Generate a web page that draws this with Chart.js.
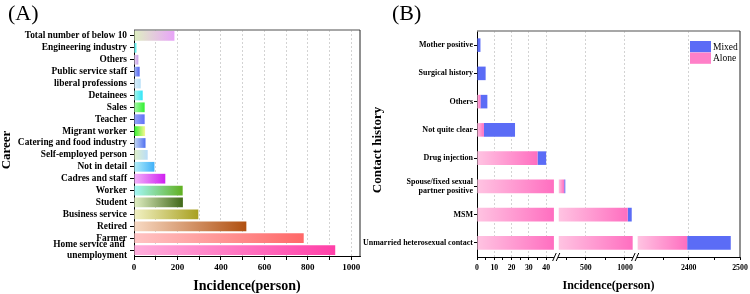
<!DOCTYPE html>
<html>
<head>
<meta charset="utf-8">
<script src="https://cdn.jsdelivr.net/npm/chart.js@4.4.1/dist/chart.umd.min.js"></script>
<style>
  body { margin: 0; background: #fff; }
  #wrap { position: relative; width: 750px; height: 294px; overflow: hidden; }
  #careerBox { position: absolute; left: 0; top: 0; width: 370px; height: 294px; }
  #contactBox { position: absolute; left: 355px; top: 0; width: 395px; height: 294px; }
  .tag { position: absolute; top: 2px; font-family: "Liberation Serif", serif; font-size: 22px; line-height: 22px; }
</style>
</head>
<body>
<div id="wrap">
  <div id="careerBox"><canvas id="careerChart"></canvas></div>
  <div id="contactBox"><canvas id="contactChart"></canvas></div>
  <div class="tag" style="left:8px;">(A)</div>
  <div class="tag" style="left:392px;">(B)</div>
</div>
<script>
// ---- (A) career ----
const careerLabels = ['Total number of below 10', 'Engineering industry', 'Others', 'Public service staff',
  'liberal professions', 'Detainees', 'Sales', 'Teacher', 'Migrant worker', 'Catering and food industry',
  'Self-employed person', 'Not in detail', 'Cadres and staff', 'Worker', 'Student', 'Business service',
  'Retired', 'Farmer', ['Home service and ', 'unemployment']];
const careerCases = [186, 11, 20, 26, 31, 40, 49, 49, 51, 53, 63, 94, 144, 224, 225, 296, 517, 781, 926];
const careerTicks = [0, 100, 200, 300, 400, 500, 600, 700, 800, 900, 1000];
const careerTickLabels = [0, 200, 400, 600, 800, 1000];

// ---- (B) contact history ----
const contactLabels = ['Mother positive', 'Surgical history', 'Others', 'Not quite clear', 'Drug injection',
  ['Spouse/fixed sexual', 'partner positive'], 'MSM', 'Unmarried heterosexual contact'];
const contactAlone = [0, 0, 2, 4, 35, 223, 1035, 2397];
const contactMixed = [2, 5, 4, 18, 5, 14, 51, 85];
// broken x axis: three pieces
const contactSegments = [[0, 44.5], [150, 1100], [2300, 2500]];
const contactTicks = [[0, 5, 10, 15, 20, 25, 30, 35, 40], [250, 500, 750, 1000], [2350, 2400, 2450, 2500]];
const contactTickLabels = [[0, 10, 20, 30, 40], [500, 1000], [2400, 2500]];

// colours (left light -> right deep) for career bars
const careerFrom = ['#dff0c2', '#a8f8f8', '#ecd8f4', '#a8bcf8', '#dcf0fa', '#a8f8ea', '#a8f8a8', '#98a8f8',
  '#30f030', '#c8dcf4', '#e2f2ca', '#b4f0fa', '#f2b4fa', '#a4f8f8', '#e2f0c4', '#f2f2c4', '#f8dac4', '#ffc4c4', '#ffaedc'];
const careerTo = ['#e8a4f8', '#40f0f0', '#c8a0e8', '#5060f0', '#b8e0f8', '#30e4f8', '#30f030', '#6070f8',
  '#f8f890', '#5070f0', '#b8dcf8', '#40b0f8', '#d020f0', '#60b020', '#406818', '#a8a020', '#b05010', '#ff6868', '#ff40a8'];
const aloneFrom = '#ffc4e2', aloneTo = '#ff6ec0', mixedBlue = '#5b6cf6';

const serif = '"Liberation Serif", "Times New Roman", serif';
Chart.defaults.color = '#000';
Chart.defaults.font.family = serif;

function hGradient(chart, x0, x1, from, to) {
  const g = chart.ctx.createLinearGradient(x0, 0, x1, 0);
  g.addColorStop(0, from);
  g.addColorStop(1, to);
  return g;
}

// top + right frame lines
const framePlugin = {
  id: 'frame',
  afterDraw(chart) {
    const {ctx, chartArea: a} = chart;
    ctx.save();
    ctx.strokeStyle = '#8a8a8a';
    ctx.lineWidth = 1.5;
    ctx.beginPath(); ctx.moveTo(a.left, a.top); ctx.lineTo(a.right, a.top); ctx.stroke();
    ctx.strokeStyle = '#222';
    ctx.lineWidth = 1;
    ctx.beginPath(); ctx.moveTo(a.right, a.top); ctx.lineTo(a.right, a.bottom); ctx.stroke();
    ctx.restore();
  }
};

// axis titles drawn at fixed spots
const titlePlugin = {
  id: 'axisTitles',
  afterDraw(chart, args, opts) {
    const ctx = chart.ctx;
    (opts.items || []).forEach(t => {
      ctx.save();
      ctx.translate(t.x, t.y);
      if (t.rotate) ctx.rotate(-Math.PI / 2);
      ctx.font = 'bold ' + t.size + 'px ' + serif;
      ctx.fillStyle = '#000';
      ctx.textAlign = 'center';
      ctx.textBaseline = 'middle';
      ctx.fillText(t.text, 0, 0);
      ctx.restore();
    });
  }
};

// "//" marks on the broken axis + legend
const breakPlugin = {
  id: 'breaks',
  afterDraw(chart) {
    const ctx = chart.ctx, y = chart.chartArea.bottom;
    ctx.save();
    ctx.strokeStyle = '#000';
    ctx.lineWidth = 1;
    ['g0', 'g1'].forEach(id => {
      const s = chart.scales[id];
      const cx = (s.left + s.right) / 2;
      [-1.8, 1.8].forEach(d => {
        ctx.beginPath();
        ctx.moveTo(cx + d - 1.8, y + 4);
        ctx.lineTo(cx + d + 1.8, y - 4);
        ctx.stroke();
      });
    });
    // legend
    const items = [['Mixed', mixedBlue], ['Alone', '#ff80c8']];
    ctx.font = '9.5px ' + serif;
    ctx.textBaseline = 'middle';
    items.forEach((it, i) => {
      const top = 41 + i * 11.5;
      ctx.fillStyle = it[1];
      ctx.fillRect(335, top, 21, 11.3);
      ctx.fillStyle = '#000';
      ctx.fillText(it[0], 358, top + 6);
    });
    ctx.restore();
  }
};

new Chart(document.getElementById('careerChart'), {
  type: 'bar',
  data: {
    labels: careerLabels,
    datasets: [{
      data: careerCases,
      backgroundColor(c) {
        if (c.type !== 'data' || !c.chart.chartArea) return careerTo[c.dataIndex] || '#999';
        const x = c.chart.scales.x;
        return hGradient(c.chart, x.getPixelForValue(0), x.getPixelForValue(c.raw), careerFrom[c.dataIndex], careerTo[c.dataIndex]);
      },
      borderWidth: 0,
      barPercentage: 0.82,
      categoryPercentage: 1
    }]
  },
  options: {
    indexAxis: 'y',
    responsive: true,
    maintainAspectRatio: false,
    animation: false,
    layout: { padding: { top: 30, right: 10, left: 0, bottom: 0 } },
    plugins: {
      legend: { display: false },
      tooltip: { enabled: false },
      axisTitles: { items: [
        { text: 'Incidence(person)', x: 247, y: 286, size: 14 },
        { text: 'Career', x: 6.5, y: 150, size: 13, rotate: true }
      ] }
    },
    scales: {
      x: {
        type: 'linear', min: 0, max: 1040, bounds: 'data',
        afterBuildTicks: s => { s.ticks = careerTicks.map(v => ({ value: v })); },
        afterFit: s => { s.height = 38; },
        ticks: {
          autoSkip: false, maxRotation: 0, padding: 2,
          font: { size: 9, weight: 'bold' },
          callback: v => careerTickLabels.includes(v) ? String(v) : ''
        },
        grid: {
          color: c => c.tick && c.tick.value === 0 ? 'rgba(0,0,0,0)' : '#c8c8c8',
          lineWidth: 0.8, tickColor: '#000', tickLength: 4, tickWidth: 1
        },
        border: { color: '#000', width: 1, dash: [2, 2] }
      },
      y: {
        type: 'category',
        afterFit: s => { s.width = 134; },
        ticks: { autoSkip: false, padding: 3, font: { size: 9.4, weight: 'bold' } },
        grid: { drawOnChartArea: false, offset: false, tickLength: 4, tickColor: '#000' },
        border: { color: '#000', width: 1 }
      }
    }
  },
  plugins: [framePlugin, titlePlugin]
});

// ---- (B) build pieces per axis segment ----
function piece(a, b, seg) {
  const lo = Math.max(a, seg[0]), hi = Math.min(b, seg[1]);
  return hi > lo ? [lo, hi] : null;
}

const segWeights = [77, 4.6, 74.4, 4.6, 102.7];
const contactDatasets = [];
const contactScales = {
  y: {
    type: 'category',
    afterFit: s => { s.width = 122; },
    ticks: { autoSkip: false, padding: 1, font: { size: 8, weight: 'bold' } },
    grid: { drawOnChartArea: false, offset: false, tickLength: 3, tickColor: '#000' },
    border: { color: '#000', width: 1 }
  }
};

contactSegments.forEach((seg, k) => {
  const id = 's' + k;
  contactDatasets.push({
    label: 'Alone', xAxisID: id,
    data: contactAlone.map(v => piece(0, v, seg)),
    backgroundColor(c) {
      if (c.type !== 'data' || !c.raw || !c.chart.chartArea) return aloneTo;
      const x = c.chart.scales[id];
      return hGradient(c.chart, x.getPixelForValue(c.raw[0]), x.getPixelForValue(c.raw[1]), aloneFrom, aloneTo);
    }
  });
  contactDatasets.push({
    label: 'Mixed', xAxisID: id,
    data: contactAlone.map((v, i) => piece(v, v + contactMixed[i], seg)),
    backgroundColor: mixedBlue
  });
  const majors = contactTickLabels[k];
  contactScales[id] = {
    type: 'linear', axis: 'x', position: 'bottom', stack: 'brk', stackWeight: segWeights[2 * k], weight: 2 * k,
    min: seg[0], max: seg[1], bounds: 'data',
    afterBuildTicks: s => { s.ticks = contactTicks[k].map(v => ({ value: v })); },
    afterFit: s => { s.height = 37; s.paddingLeft = 0; s.paddingRight = 0; },
    ticks: {
      autoSkip: false, maxRotation: 0, padding: 3,
      font: { size: 7.8, weight: 'bold' },
      callback: v => majors.includes(v) ? String(v) : ''
    },
    grid: {
      color: c => {
        const v = c.tick && c.tick.value;
        return majors.includes(v) && v !== 0 && v !== 2500 ? '#c8c8c8' : 'rgba(0,0,0,0)';
      },
      lineWidth: 0.8, tickColor: '#000', tickLength: 3, tickWidth: 1
    },
    border: { color: '#000', width: 1, dash: [2, 2] }
  };
  if (k < 2) {
    contactScales['g' + k] = {
      type: 'linear', axis: 'x', position: 'bottom', stack: 'brk', stackWeight: segWeights[2 * k + 1], weight: 2 * k + 1,
      display: false
    };
  }
});

new Chart(document.getElementById('contactChart'), {
  type: 'bar',
  data: {
    labels: contactLabels,
    datasets: contactDatasets.map(d => Object.assign(d, {
      yAxisID: 'y', grouped: false, borderWidth: 0, barPercentage: 0.48, categoryPercentage: 1
    }))
  },
  options: {
    indexAxis: 'y',
    responsive: true,
    maintainAspectRatio: false,
    animation: false,
    layout: { padding: { top: 31, right: 10, left: 0, bottom: 0 } },
    plugins: {
      legend: { display: false },
      tooltip: { enabled: false },
      axisTitles: { items: [
        { text: 'Incidence(person)', x: 253.5, y: 286, size: 12 },
        { text: 'Contact history', x: 22.5, y: 150, size: 13, rotate: true }
      ] }
    },
    scales: contactScales
  },
  plugins: [framePlugin, titlePlugin, breakPlugin]
});
</script>
</body>
</html>
